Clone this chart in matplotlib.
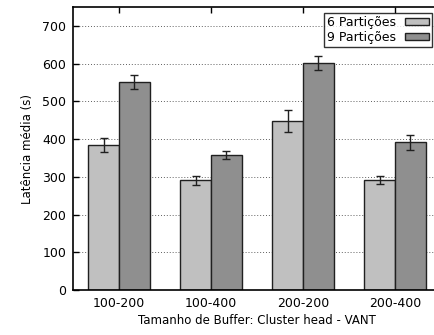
import numpy as np
import matplotlib.pyplot as plt
from matplotlib.patches import Patch

# buffer size configurations (cluster head - VANT)
configs = ['100-200', '100-400', '200-200', '200-400']

# mean latency (s) and error
lat_6 = [385, 291, 448, 291]
err_6 = [18, 12, 28, 10]
lat_9 = [551, 358, 602, 391]
err_9 = [18, 11, 18, 19]

x = np.arange(len(configs))
w = 0.333

fig = plt.figure(figsize=(4.35, 3.35), dpi=100)
ax = fig.add_axes([73 / 435, 45 / 335, 368 / 435, 283 / 335])

ax.bar(x - w / 2, lat_6, w, color='#c0c0c0', edgecolor='#202020', linewidth=1.0, zorder=2)
ax.bar(x + w / 2, lat_9, w, color='#8f8f8f', edgecolor='#202020', linewidth=1.0, zorder=2)
ax.errorbar(x - w / 2, lat_6, yerr=err_6, fmt='none', ecolor='#202020',
            elinewidth=1.0, capsize=3, capthick=1.0, zorder=3)
ax.errorbar(x + w / 2, lat_9, yerr=err_9, fmt='none', ecolor='#202020',
            elinewidth=1.0, capsize=3, capthick=1.0, zorder=3)

ax.set_xlim(-0.5, 3.5)
ax.set_ylim(0, 750)
ax.set_yticks(range(0, 701, 100))
ax.set_xticks(x)
ax.set_xticklabels(configs)
ax.yaxis.grid(True, linestyle=(0, (1, 2)), color='#606060', linewidth=0.7, zorder=0)
ax.set_axisbelow(True)

ax.tick_params(axis='both', labelsize=9, direction='in', length=4, width=1, pad=5)
ax.tick_params(axis='x', top=True, bottom=False)
ax.tick_params(axis='y', right=False)
for s in ax.spines.values():
    s.set_linewidth(1.2)

ax.set_xlabel('Tamanho de Buffer: Cluster head - VANT', fontsize=8.5, labelpad=3)
ax.set_ylabel('Latência média (s)', fontsize=8.5, labelpad=6)

handles = [Patch(facecolor='#c0c0c0', edgecolor='#202020', linewidth=1.0),
           Patch(facecolor='#8f8f8f', edgecolor='#202020', linewidth=1.0)]
leg = ax.legend(handles, ['6 Partições', '9 Partições'], loc='upper right',
                bbox_to_anchor=(359 / 368, 1 - 6 / 283), markerfirst=False,
                fontsize=9, frameon=True, fancybox=False, borderpad=0.25,
                labelspacing=0.15, handlelength=1.9, handleheight=0.55,
                handletextpad=0.7, borderaxespad=0)
leg.get_frame().set_edgecolor('black')
leg.get_frame().set_linewidth(1.0)

fig.savefig('out.png', dpi=100)
